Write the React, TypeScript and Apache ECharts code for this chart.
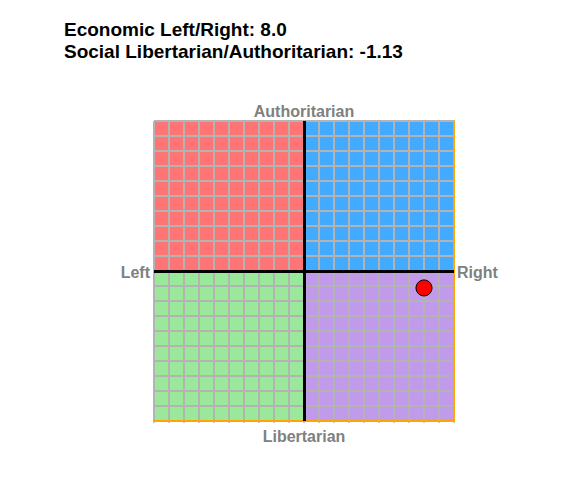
import React, { useEffect, useRef } from "react";
import * as echarts from "echarts";

const titleLines = ["Economic Left/Right: 8.0", "Social Libertarian/Authoritarian: -1.13"];
const axisNames = { top: "Authoritarian", bottom: "Libertarian", left: "Left", right: "Right" };
const economic = [8.0];
const social = [-1.13];
const quadrants = [
  { name: "Auth Left", from: [-10, 0], to: [0, 10], color: "#FF7575" },
  { name: "Auth Right", from: [0, 0], to: [10, 10], color: "#42AAFF" },
  { name: "Lib Left", from: [-10, -10], to: [0, 0], color: "#9AE99A" },
  { name: "Lib Right", from: [0, -10], to: [10, 0], color: "#C19AEB" },
];

export default function App() {
  const ref = useRef<HTMLDivElement>(null);
  useEffect(() => {
    if (!ref.current) return;
    const chart = echarts.init(ref.current, null, { renderer: "svg" });
    const gridLeft = 154, gridTop = 121, size = 300;
    const labelStyle = { fill: "#808080", fontFamily: "Liberation Sans, Arial, sans-serif", fontWeight: "bold", fontSize: 16 };
    chart.setOption({
      animation: false,
      backgroundColor: "#ffffff",
      title: {
        text: titleLines.join("\n"),
        left: 64,
        top: 18,
        padding: 0,
        textStyle: { fontFamily: "Liberation Sans, Arial, sans-serif", fontWeight: "bold", fontSize: 19, color: "#000", lineHeight: 22 },
      },
      grid: { left: gridLeft, top: gridTop, width: size, height: size, containLabel: false },
      xAxis: {
        type: "value", min: -10, max: 10, interval: 1, z: 3,
        axisLine: { show: true, onZero: false, lineStyle: { color: "#FFA500", width: 2 } },
        axisTick: { show: true, length: 2, lineStyle: { color: "#b3b3b3", width: 1.5 } },
        axisLabel: { show: false },
        splitLine: { show: true, lineStyle: { color: "#b3b3b3", width: 2 } },
      },
      yAxis: {
        type: "value", min: -10, max: 10, interval: 1, position: "right", z: 3,
        axisLine: { show: true, onZero: false, lineStyle: { color: "#FFA500", width: 2 } },
        axisTick: { show: false },
        axisLabel: { show: false },
        splitLine: { show: true, lineStyle: { color: "#b3b3b3", width: 2 } },
      },
      graphic: [
        { type: "text", x: gridLeft + size / 2, y: gridTop - 10, style: { ...labelStyle, text: axisNames.top, textAlign: "center", textVerticalAlign: "middle" } },
        { type: "text", x: gridLeft + size / 2, y: gridTop + size + 15, style: { ...labelStyle, text: axisNames.bottom, textAlign: "center", textVerticalAlign: "middle" } },
        { type: "text", x: gridLeft - 4, y: gridTop + size / 2 + 1, style: { ...labelStyle, text: axisNames.left, textAlign: "right", textVerticalAlign: "middle" } },
        { type: "text", x: gridLeft + size + 3, y: gridTop + size / 2 + 1, style: { ...labelStyle, text: axisNames.right, textAlign: "left", textVerticalAlign: "middle" } },
      ],
      series: [
        {
          type: "scatter",
          data: [],
          z: 1,
          silent: true,
          markArea: {
            silent: true,
            data: quadrants.map((q) => [
              { coord: q.from, itemStyle: { color: q.color, opacity: 1 } },
              { coord: q.to },
            ]),
          },
        },
        {
          type: "scatter",
          data: [],
          z: 5,
          markLine: {
            silent: true,
            symbol: "none",
            label: { show: false },
            lineStyle: { color: "#000", width: 3, type: "solid" },
            data: [{ xAxis: 0 }, { yAxis: 0 }],
          },
        },
        {
          type: "scatter",
          z: 10,
          symbolSize: 16,
          itemStyle: { color: "#FF0000", borderColor: "#000", borderWidth: 1, opacity: 1 },
          data: economic.map((e, i) => [e, social[i]]),
        },
      ],
    });
    return () => chart.dispose();
  }, []);
  return <div ref={ref} style={{ position: "fixed", left: 0, top: 0, width: 567, height: 496 }} />;
}
